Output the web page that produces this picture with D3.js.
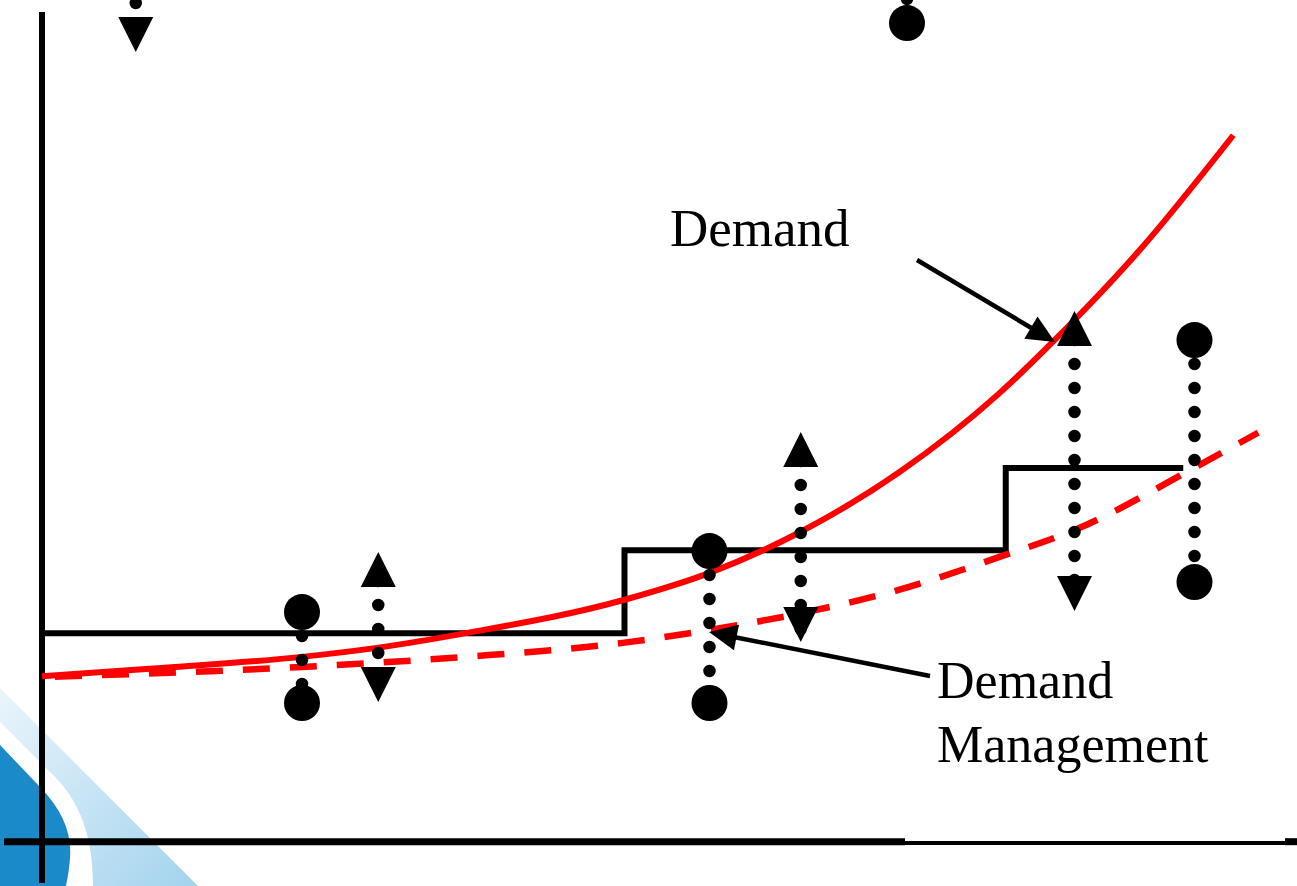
<!DOCTYPE html>
<html>
<head>
<meta charset="utf-8">
<script src="https://cdn.jsdelivr.net/npm/d3@7"></script>
<style>
  html, body { margin: 0; padding: 0; background: #fff; overflow: hidden; }
  svg { display: block; }
</style>
</head>
<body>
<svg id="chart" width="1297" height="886"></svg>
<script>
// Time runs 0-100 along x, quantity 0-100 up y (arbitrary units).

// Unmanaged demand (solid red)
const demandX = [0, 8.6, 20.8, 26.9, 33.8, 46.6, 53.4, 60.7, 68.6, 76.6, 81.0, 87.8, 95.3];
const demandY = [19.5, 20.4, 21.8, 22.9, 24.6, 28.6, 31.8, 36.7, 43.8, 53.2, 59.5, 70.2, 83.9];

// Demand after demand management (dashed red)
const managedX = [0, 20.8, 33.8, 46.6, 53.4, 60.7, 68.6, 76.6, 82.6, 92.3, 97.3];
const managedY = [19.4, 20.6, 21.8, 23.5, 25.0, 27.0, 29.8, 33.7, 36.9, 44.4, 48.5];

// Capacity steps (black)
const capacityX = [0, 46.6, 77.1, 91.3];
const capacityY = [24.6, 34.5, 44.3, 44.3];

// Dotted ranges: position, upper end, lower end, end-marker shapes
const rangeX      = [7.5, 20.8, 26.9, 53.4, 60.7, 69.2, 82.6, 92.2];
const rangeHigh   = [105.36, 27.14, 34.29, 34.40, 48.57, 102.98, 62.98, 59.52];
const rangeLow    = [93.81, 16.31, 16.43, 16.31, 23.57, 97.26, 27.26, 30.71];
const rangeTop    = ["none", "circle", "up", "circle", "up", "none", "up", "circle"];
const rangeBottom = ["down", "circle", "down", "circle", "down", "circle", "down", "circle"];

// Annotation labels and their leader arrows
const labelText  = [["Demand"], ["Demand", "Management"]];
const labelX     = [50.24, 71.6];
const labelY     = [70.71, 16.90];
const labelSize  = [53, 52];
const arrowFromX = [70.0, 71.04];
const arrowFromY = [69.05, 19.52];
const arrowToX   = [81.04, 53.36];
const arrowToY   = [59.29, 24.76];

const W = 1297, H = 886;
const x = d3.scaleLinear().domain([0, 100]).range([42, 1292]);
const y = d3.scaleLinear().domain([0, 100]).range([840, 0]);

const svg = d3.select("#chart");
svg.append("rect").attr("width", W).attr("height", H).attr("fill", "#fff");

// Corner decoration
const defs = svg.append("defs");
const grad = defs.append("linearGradient").attr("id", "band")
  .attr("x1", "0").attr("y1", "0").attr("x2", "1").attr("y2", "1");
grad.append("stop").attr("offset", "0%").attr("stop-color", "#eaf5fb");
grad.append("stop").attr("offset", "100%").attr("stop-color", "#a3d3ee");
svg.append("path")
  .attr("d", "M0,688 L198,886 L93,886 C93,836 80,800 50,772 L0,722 Z")
  .attr("fill", "url(#band)");
svg.append("path")
  .attr("d", "M0,745 L40,787 C62,810 72,832 70,858 C69,872 67,880 66,886 L0,886 Z")
  .attr("fill", "#1a8ac8");

// Axes (plain lines, no ticks)
const axes = svg.append("g").attr("stroke", "#000").attr("fill", "none");
axes.append("line")
  .attr("x1", x(0)).attr("x2", x(0))
  .attr("y1", y(98.57)).attr("y2", y(-5.12))
  .attr("stroke-width", 6);
axes.append("line")
  .attr("x1", x(-3.04)).attr("x2", x(100.4))
  .attr("y1", y(-0.36)).attr("y2", y(-0.36))
  .attr("stroke-width", 4);
axes.append("line")
  .attr("x1", x(-3.04)).attr("x2", x(69.04))
  .attr("y1", y(-0.2)).attr("y2", y(-0.2))
  .attr("stroke-width", 7);
axes.append("line")
  .attr("x1", x(99.44)).attr("x2", x(100.4))
  .attr("y1", y(-0.2)).attr("y2", y(-0.2))
  .attr("stroke-width", 7);

// Capacity step line
const capacity = capacityX.map((d, i) => [d, capacityY[i]]);
svg.append("path")
  .datum(capacity)
  .attr("fill", "none")
  .attr("stroke", "#000")
  .attr("stroke-width", 6)
  .attr("stroke-linejoin", "miter")
  .attr("d", d3.line().x(d => x(d[0])).y(d => y(d[1])).curve(d3.curveStepAfter));

// Demand curves
const curve = d3.line().x(d => x(d[0])).y(d => y(d[1])).curve(d3.curveMonotoneX);
svg.append("path")
  .datum(managedX.map((d, i) => [d, managedY[i]]))
  .attr("fill", "none")
  .attr("stroke", "#ff0000")
  .attr("stroke-width", 6.5)
  .attr("stroke-dasharray", "27 20")
  .attr("stroke-dashoffset", 34)
  .attr("d", curve);
svg.append("path")
  .datum(demandX.map((d, i) => [d, demandY[i]]))
  .attr("fill", "none")
  .attr("stroke", "#ff0000")
  .attr("stroke-width", 6)
  .attr("d", curve);

// Dotted ranges with end markers
const ranges = rangeX.map((d, i) => ({
  x: d, hi: rangeHigh[i], lo: rangeLow[i], top: rangeTop[i], bottom: rangeBottom[i]
}));
const TRI = 35, R = 18, GAP = 24;
const rg = svg.append("g");
ranges.forEach(r => {
  const px = x(r.x);
  const yHi = y(r.hi), yLo = y(r.lo);
  const start = r.top === "up" ? yHi + 29 : yHi;
  const end = r.bottom === "down" ? yLo - 10 : yLo;
  rg.append("line")
    .attr("x1", px).attr("x2", px)
    .attr("y1", start).attr("y2", end)
    .attr("stroke", "#000")
    .attr("stroke-width", 12.5)
    .attr("stroke-linecap", "round")
    .attr("stroke-dasharray", `0 ${GAP}`);
  const drawMarker = (shape, py) => {
    if (shape === "circle") {
      rg.append("circle").attr("cx", px).attr("cy", py).attr("r", R).attr("fill", "#000");
    } else if (shape === "up") {
      rg.append("path")
        .attr("d", `M${px},${py} L${px + TRI / 2},${py + TRI} L${px - TRI / 2},${py + TRI} Z`)
        .attr("fill", "#000");
    } else if (shape === "down") {
      rg.append("path")
        .attr("d", `M${px},${py} L${px + TRI / 2},${py - TRI} L${px - TRI / 2},${py - TRI} Z`)
        .attr("fill", "#000");
    }
  };
  drawMarker(r.top, yHi);
  drawMarker(r.bottom, yLo);
});

// Labels with leader arrows
const ann = svg.append("g");
labelText.forEach((lines, i) => {
  const x0 = x(arrowFromX[i]), y0 = y(arrowFromY[i]);
  const x1 = x(arrowToX[i]), y1 = y(arrowToY[i]);
  const len = Math.hypot(x1 - x0, y1 - y0);
  const ux = (x1 - x0) / len, uy = (y1 - y0) / len;
  const headL = 28, headW = 13;
  const bx = x1 - ux * headL, by = y1 - uy * headL;
  ann.append("line")
    .attr("x1", x0).attr("y1", y0)
    .attr("x2", bx + ux * 4).attr("y2", by + uy * 4)
    .attr("stroke", "#000").attr("stroke-width", 4.5);
  ann.append("path")
    .attr("d", `M${x1},${y1} L${bx - uy * headW},${by + ux * headW} L${bx + uy * headW},${by - ux * headW} Z`)
    .attr("fill", "#000");

  const t = ann.append("text")
    .attr("x", x(labelX[i]))
    .attr("y", y(labelY[i]))
    .attr("font-family", "'Liberation Serif', 'Times New Roman', serif")
    .attr("font-size", labelSize[i])
    .attr("fill", "#000");
  lines.forEach((s, j) => {
    t.append("tspan")
      .attr("x", x(labelX[i]))
      .attr("dy", j === 0 ? 0 : 64)
      .text(s);
  });
});
</script>
</body>
</html>
